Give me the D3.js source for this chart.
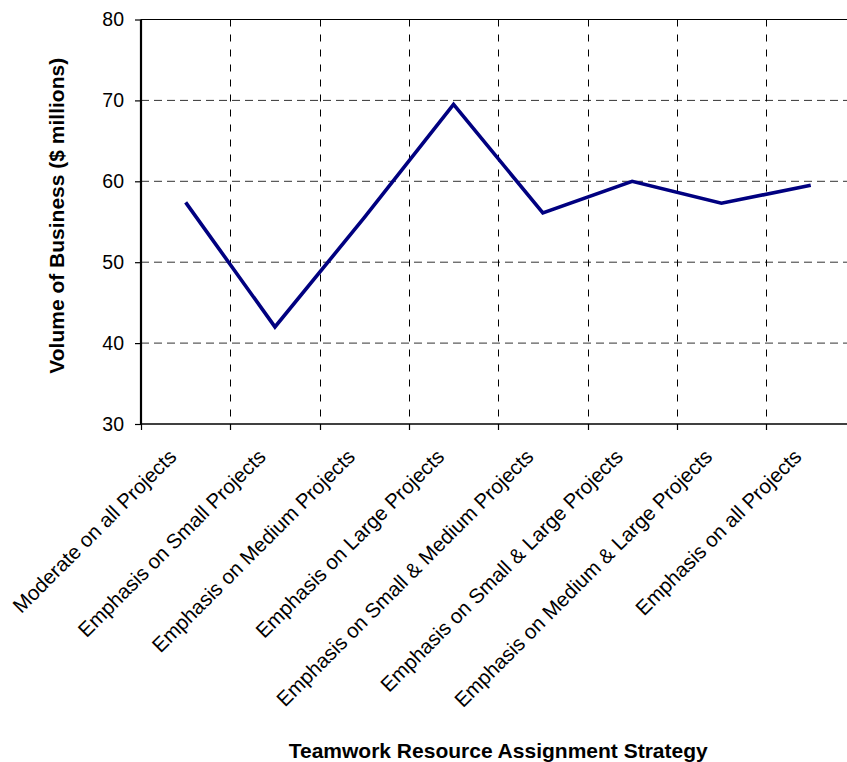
<!DOCTYPE html>
<html lang="en">
    <head>
        <meta charset="utf-8">
        <title>Teamwork Resource Assignment Strategy</title>
        <script type="text/javascript" src="https://d3js.org/d3.v7.min.js"></script>
        <style>
            body {
                margin: 0;
                background: white;
            }
            svg {
                display: block;
                font-family: Arial, "Liberation Sans", sans-serif;
            }
        </style>
    </head>
    <body>
        <script>
            //Width and height
            const w = 847;
            const h = 762;

            // data
            const categories = [
                "Moderate on all Projects",
                "Emphasis on Small Projects",
                "Emphasis on Medium Projects",
                "Emphasis on Large Projects",
                "Emphasis on Small & Medium Projects",
                "Emphasis on Small & Large Projects",
                "Emphasis on Medium & Large Projects",
                "Emphasis on all Projects"
            ];
            const volume = [57.4, 42.0, 55.5, 69.5, 56.1, 60.0, 57.3, 59.5];
            const yTicks = [30, 40, 50, 60, 70, 80];

            const xTitle = "Teamwork Resource Assignment Strategy";
            const yTitle = "Volume of Business ($ millions)";

            // plot area (right edge runs past the window, like the original)
            const plotLeft = 141, plotTop = 19.5, plotBottom = 424, bandW = 89.3;
            const plotRight = plotLeft + bandW * categories.length;

            let xScale = d3.scaleBand()
                            .domain(categories)
                            .range([plotLeft, plotRight])
                            .padding(0);

            let yScale = d3.scaleLinear()
                            .domain([30, 80])
                            .range([plotBottom, plotTop]);

            const svg = d3.select("body")
                        .append("svg")
                        .attr("width", w)
                        .attr("height", h);

            svg.append("rect")
               .attr("width", w)
               .attr("height", h)
               .attr("fill", "white");

            //horizontal grid (dashed)
            svg.selectAll("line.hgrid")
               .data(yTicks.filter(function(d) { return d > 30 && d < 80; }))
               .enter()
               .append("line")
               .attr("class", "hgrid")
               .attr("x1", plotLeft)
               .attr("x2", plotRight)
               .attr("y1", function(d) { return yScale(d); })
               .attr("y2", function(d) { return yScale(d); })
               .attr("stroke", "#333")
               .attr("stroke-width", 1)
               .attr("stroke-dasharray", "8,5");

            //vertical grid at category boundaries
            svg.selectAll("line.vgrid")
               .data(categories.slice(1))
               .enter()
               .append("line")
               .attr("class", "vgrid")
               .attr("x1", function(d) { return Math.round(xScale(d)) + 0.5; })
               .attr("x2", function(d) { return Math.round(xScale(d)) + 0.5; })
               .attr("y1", plotTop)
               .attr("y2", plotBottom)
               .attr("stroke", "#000")
               .attr("stroke-width", 1)
               .attr("stroke-dasharray", "7,8");

            //top border
            svg.append("line")
               .attr("x1", plotLeft)
               .attr("x2", plotRight)
               .attr("y1", plotTop)
               .attr("y2", plotTop)
               .attr("stroke", "#000")
               .attr("stroke-width", 1.2);

            //y axis
            const yAxis = d3.axisLeft(yScale)
                            .tickValues(yTicks)
                            .tickSize(6)
                            .tickPadding(11)
                            .tickFormat(d3.format("d"));

            const gy = svg.append("g")
                          .attr("transform", "translate(" + plotLeft + ",0)")
                          .call(yAxis);
            gy.select(".domain").attr("stroke-width", 2.2).attr("d", "M0," + plotTop + "V" + plotBottom);
            gy.selectAll(".tick line").attr("stroke-width", 1.2);
            gy.selectAll(".tick text")
              .attr("font-size", "19.5px")
              .attr("font-family", "Arial, 'Liberation Sans', sans-serif")
              .attr("fill", "#000");

            //x axis line + ticks at band boundaries
            svg.append("line")
               .attr("x1", plotLeft)
               .attr("x2", plotRight)
               .attr("y1", plotBottom)
               .attr("y2", plotBottom)
               .attr("stroke", "#000")
               .attr("stroke-width", 1.4);

            svg.selectAll("line.xtick")
               .data(categories)
               .enter()
               .append("line")
               .attr("class", "xtick")
               .attr("x1", function(d) { return Math.round(xScale(d)) + 0.5; })
               .attr("x2", function(d) { return Math.round(xScale(d)) + 0.5; })
               .attr("y1", plotBottom)
               .attr("y2", plotBottom + 6)
               .attr("stroke", "#000")
               .attr("stroke-width", 1.2);

            //category labels, rotated
            svg.selectAll("text.cat")
               .data(categories)
               .enter()
               .append("text")
               .attr("class", "cat")
               .text(function(d) { return d; })
               .attr("text-anchor", "end")
               .attr("font-size", "20.5px")
               .attr("fill", "#000")
               .attr("transform", function(d) {
                    let cx = xScale(d) + xScale.bandwidth() / 2;
                    return "translate(" + (cx - 8) + "," + (plotBottom + 34) + ") rotate(-45)";
               });

            //the line
            const line = d3.line()
                           .x(function(d, i) { return xScale(categories[i]) + xScale.bandwidth() / 2; })
                           .y(function(d) { return yScale(d); });

            svg.append("path")
               .datum(volume)
               .attr("d", line)
               .attr("fill", "none")
               .attr("stroke", "#000080")
               .attr("stroke-width", 3.6);

            //axis titles, centred on the plot area
            svg.append("text")
               .text(xTitle)
               .attr("x", (plotLeft + plotRight) / 2)
               .attr("y", 758)
               .attr("text-anchor", "middle")
               .attr("font-size", "21px")
               .attr("font-weight", "bold")
               .attr("fill", "#000");

            svg.append("text")
               .text(yTitle)
               .attr("transform", "translate(64," + ((plotTop + plotBottom) / 2 - 6) + ") rotate(-90)")
               .attr("text-anchor", "middle")
               .attr("font-size", "21px")
               .attr("font-weight", "bold")
               .attr("fill", "#000");
        </script>
    </body>
</html>
